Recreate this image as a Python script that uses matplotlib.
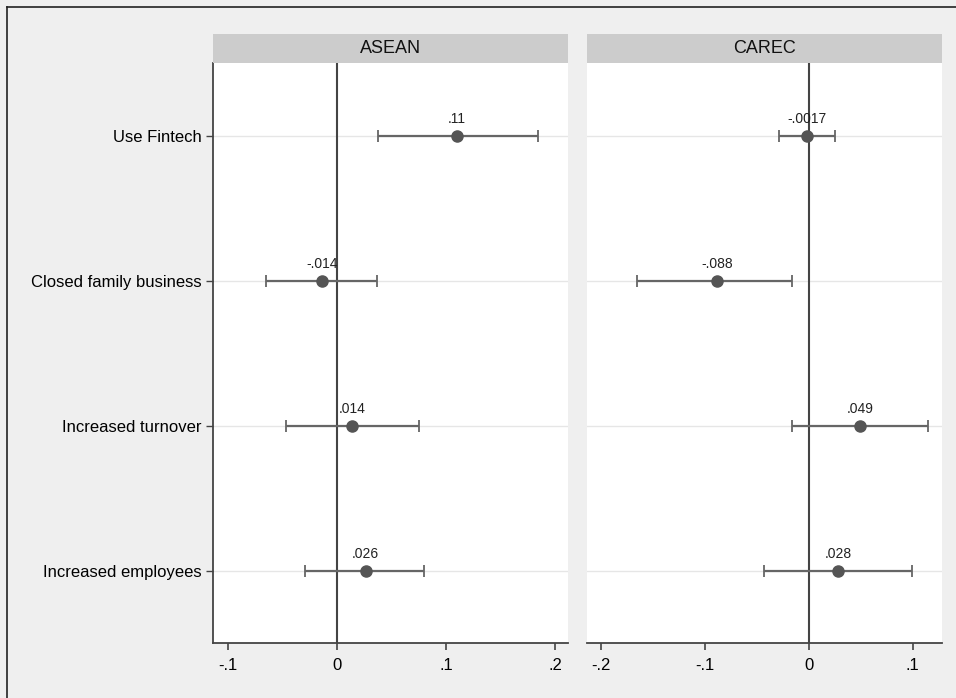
import matplotlib
matplotlib.use("Agg")
import matplotlib.pyplot as plt
from matplotlib.lines import Line2D
from matplotlib.patches import Rectangle

plt.rcParams['font.family'] = ['Liberation Sans', 'DejaVu Sans']

categories = ["Use Fintech", "Closed family business", "Increased turnover", "Increased employees"]
panels = ["ASEAN", "CAREC"]

asean_coef = [0.11, -0.014, 0.014, 0.026]
asean_lo = [0.0374, -0.065, -0.047, -0.0295]
asean_hi = [0.184, 0.0365, 0.075, 0.0797]
asean_labels = [".11", "-.014", ".014", ".026"]

carec_coef = [-0.0017, -0.088, 0.049, 0.028]
carec_lo = [-0.0284, -0.165, -0.016, -0.043]
carec_hi = [0.0254, -0.0162, 0.1147, 0.0993]
carec_labels = ["-.0017", "-.088", ".049", ".028"]

asean_ticks = [-0.1, 0, 0.1, 0.2]
asean_ticklabels = ["-.1", "0", ".1", ".2"]
carec_ticks = [-0.2, -0.1, 0, 0.1]
carec_ticklabels = ["-.2", "-.1", "0", ".1"]

W, H = 956, 698
fig = plt.figure(figsize=(W / 100, H / 100), dpi=100)
fig.patch.set_facecolor("#efefef")

# outer frame lines (left and top)
fig.add_artist(Line2D([7 / W, 7 / W], [0, 1 - 7 / H], color="#222222", lw=1.2))
fig.add_artist(Line2D([7 / W, 1], [1 - 7 / H, 1 - 7 / H], color="#222222", lw=1.2))

bottom = 1 - 643 / H
height = 580 / H
width = 355 / W
lefts = [213 / W, 587 / W]
xlims = [(-0.1137, 0.2115), (-0.213, 0.128)]

data = [
    (asean_coef, asean_lo, asean_hi, asean_labels, asean_ticks, asean_ticklabels),
    (carec_coef, carec_lo, carec_hi, carec_labels, carec_ticks, carec_ticklabels),
]

ypos = [4, 3, 2, 1]
dark = "#555555"

for i, (left, name, xl, d) in enumerate(zip(lefts, panels, xlims, data)):
    coef, lo, hi, labs, ticks, ticklabels = d
    ax = fig.add_axes([left, bottom, width, height])
    ax.set_facecolor("white")
    ax.set_xlim(*xl)
    ax.set_ylim(0.5, 4.5)
    for y in ypos:
        ax.axhline(y, color="#e6e6e6", lw=1.0, zorder=0)
    ax.axvline(0, color="#444444", lw=1.5, zorder=1)
    xerr = [[c - l for c, l in zip(coef, lo)], [h - c for c, h in zip(coef, hi)]]
    ax.errorbar(coef, ypos, xerr=xerr, fmt="o", color=dark, ecolor="#666666",
                elinewidth=1.6, capsize=4.5, capthick=1.3, markersize=8, zorder=3)
    for c, y, t in zip(coef, ypos, labs):
        ax.annotate(t, (c, y), xytext=(0, 7), textcoords="offset points",
                    ha="center", va="bottom", fontsize=10, color="#222222")
    for s in ["top", "right"]:
        ax.spines[s].set_visible(False)
    ax.spines["bottom"].set_color("#444444")
    ax.spines["bottom"].set_linewidth(1.3)
    ax.set_xticks(ticks)
    ax.set_xticklabels(ticklabels, fontsize=12)
    ax.tick_params(axis="x", length=5, width=1.2, color="#444444", pad=6)
    if i == 0:
        ax.spines["left"].set_color("#444444")
        ax.spines["left"].set_linewidth(1.3)
        ax.set_yticks(ypos)
        ax.set_yticklabels(categories, fontsize=12)
        ax.tick_params(axis="y", length=5, width=1.0, color="#444444", pad=3)
    else:
        ax.spines["left"].set_visible(False)
        ax.set_yticks([])
    # strip
    sb = 1 - 63 / H
    sh = 29 / H
    fig.add_artist(Rectangle((left, sb), width, sh, transform=fig.transFigure,
                             facecolor="#cccccc", edgecolor="none"))
    fig.text(left + width / 2, sb + sh / 2, name, ha="center", va="center",
             fontsize=13, color="#111111")

fig.savefig("out.png", dpi=100, facecolor=fig.get_facecolor())
